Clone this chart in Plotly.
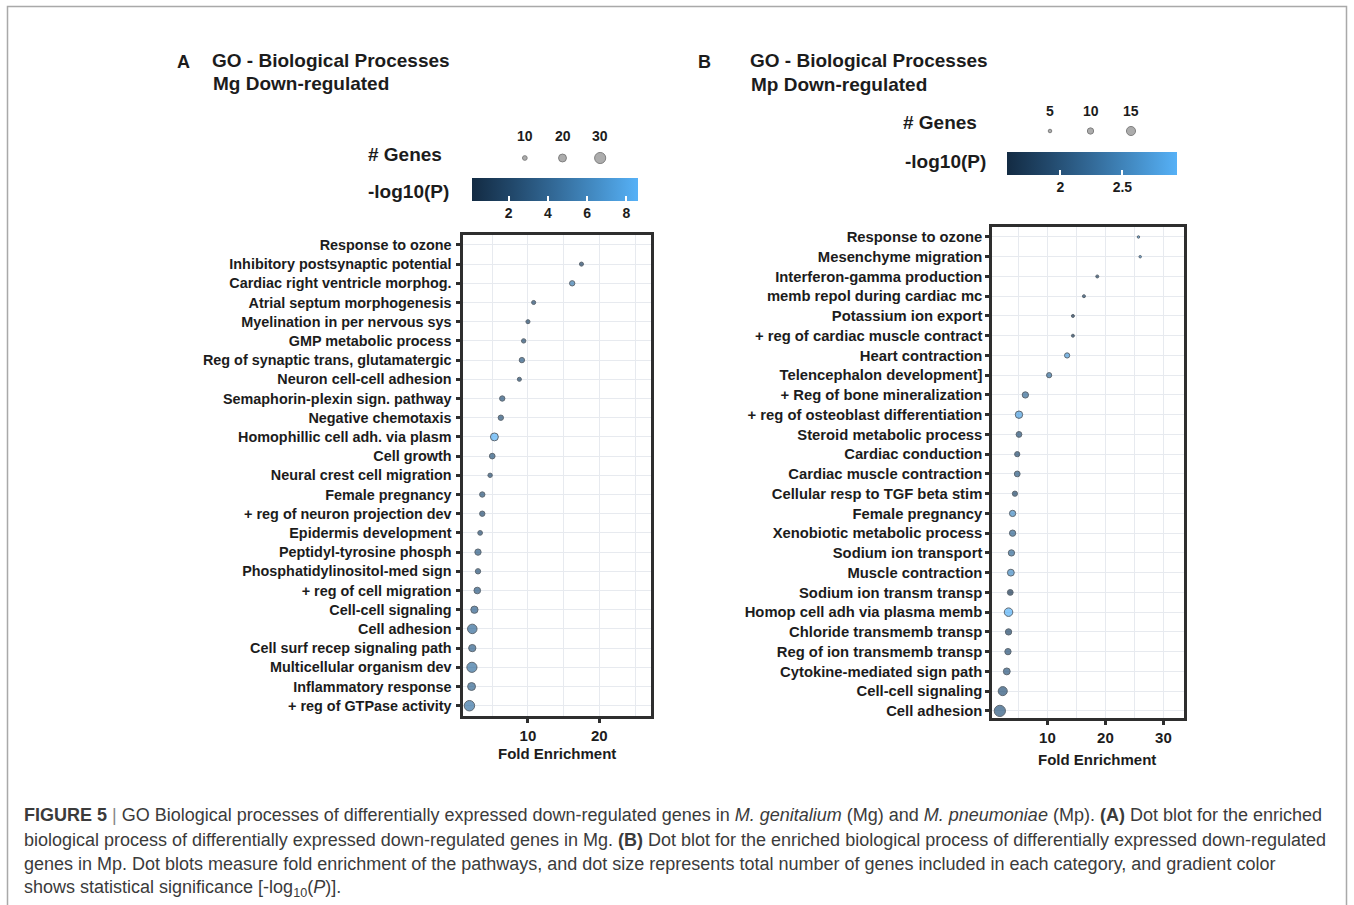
import numpy as np
import plotly.graph_objects as go

NA = float("nan")

# ---------------- data ----------------
A_terms = [
    "Response to ozone", "Inhibitory postsynaptic potential", "Cardiac right ventricle morphog.",
    "Atrial septum morphogenesis", "Myelination in per nervous sys", "GMP metabolic process",
    "Reg of synaptic trans, glutamatergic", "Neuron cell-cell adhesion", "Semaphorin-plexin sign. pathway",
    "Negative chemotaxis", "Homophillic cell adh. via plasm", "Cell growth", "Neural crest cell migration",
    "Female pregnancy", "+ reg of neuron projection dev", "Epidermis development",
    "Peptidyl-tyrosine phosph", "Phosphatidylinositol-med sign", "+ reg of cell migration",
    "Cell-cell signaling", "Cell adhesion", "Cell surf recep signaling path",
    "Multicellular organism dev", "Inflammatory response", "+ reg of GTPase activity",
]
A_fold = [NA, 17.5, 16.2, 10.8, 10.0, 9.4, 9.15, 8.8, 6.4, 6.2, 5.3, 5.0, 4.7,
          3.6, 3.6, 3.3, 3.0, 3.0, 2.9, 2.5, 2.2, 2.2, 2.15, 2.1, 1.8]
A_genes = [NA, 8, 12, 8, 8, 9, 12, 8, 12, 12, 20, 13, 9,
           12, 12, 10, 15, 12, 16, 18, 25, 18, 27, 20, 28]
A_logp = [NA, 2.0, 5.5, 2.6, 2.3, 2.5, 3.4, 2.1, 3.0, 2.9, 8.6, 3.2, 2.6,
          2.9, 2.7, 2.6, 3.4, 2.9, 3.3, 3.8, 4.4, 3.8, 4.8, 4.0, 4.9]

B_terms = [
    "Response to ozone", "Mesenchyme migration", "Interferon-gamma production",
    "memb repol during cardiac mc", "Potassium ion export", "+ reg of cardiac muscle contract",
    "Heart contraction", "Telencephalon development]", "+ Reg of bone mineralization",
    "+ reg of osteoblast differentiation", "Steroid metabolic process", "Cardiac conduction",
    "Cardiac muscle contraction", "Cellular resp to TGF beta stim", "Female pregnancy",
    "Xenobiotic metabolic process", "Sodium ion transport", "Muscle contraction",
    "Sodium ion transm transp", "Homop cell adh via plasma memb", "Chloride transmemb transp",
    "Reg of ion transmemb transp", "Cytokine-mediated sign path", "Cell-cell signaling", "Cell adhesion",
]
B_fold = [25.7, 26.0, 18.6, 16.3, 14.4, 14.4, 13.4, 10.3, 6.2, 5.1, 5.1, 4.8, 4.8,
          4.4, 4.0, 4.0, 3.8, 3.7, 3.6, 3.3, 3.3, 3.2, 3.0, 2.3, 1.8]
B_genes = [3, 3, 4, 4, 4, 4, 8, 8, 10, 12, 9, 8, 9,
           8, 10, 10, 10, 11, 9, 14, 10, 10, 11, 15, 19]
B_logp = [2.6, 2.6, 1.8, 1.9, 1.7, 1.75, 2.75, 2.3, 2.25, 2.8, 2.0, 1.95, 2.1,
          1.9, 2.6, 2.2, 2.25, 2.6, 1.7, 2.94, 1.9, 2.0, 2.05, 2.0, 2.05]

A_size_breaks = [10, 20, 30]
B_size_breaks = [5, 10, 15]
A_color_ticks = [2, 4, 6, 8]
B_color_ticks = [2, 2.5]

# ---------------- helpers ----------------
W, H = 1354, 905
FONT = "Liberation Sans, Arial, Helvetica, sans-serif"
INK = "#1c1c1c"

# dot diameter (px) = base + slope * genes, one scale per panel
A_SIZE = (1.5, 0.32)
B_SIZE = (0.8, 0.55)


def fx(px):
    return px / W


def fy(py):
    return 1 - py / H


def dot_size(genes, scale):
    base, slope = scale
    g = np.asarray(genes, dtype=float)
    return np.nan_to_num(base + slope * g, nan=0.0)


def keep(vals):
    # rows that carry a drawable value
    return [i for i, v in enumerate(vals) if not np.isnan(v)]


# default ggplot gradient, sampled in Lab space
GRAD = [[0.0, "#132B43"], [0.25, "#22496C"], [0.5, "#336A98"], [0.75, "#448DC6"], [1.0, "#56B1F7"]]

fig = go.Figure()

# ---- panel A dots ----
ia = keep(A_fold)
fig.add_trace(go.Scatter(
    x=[A_fold[i] for i in ia], y=[A_terms[i] for i in ia], mode="markers", xaxis="x", yaxis="y",
    marker=dict(size=dot_size([A_genes[i] for i in ia], A_SIZE), color=[A_logp[i] for i in ia],
                coloraxis="coloraxis", opacity=0.7, line=dict(color="#1d2b38", width=1)),
    showlegend=False, hoverinfo="x+y",
))
# ---- panel B dots ----
fig.add_trace(go.Scatter(
    x=B_fold, y=B_terms, mode="markers", xaxis="x2", yaxis="y2",
    marker=dict(size=dot_size(B_genes, B_SIZE), color=B_logp, coloraxis="coloraxis2",
                opacity=0.7, line=dict(color="#1d2b38", width=1)),
    showlegend=False, hoverinfo="x+y",
))
# ---- size keys ----
fig.add_trace(go.Scatter(
    x=list(range(len(A_size_breaks))), y=[0.5] * len(A_size_breaks), mode="markers",
    xaxis="x3", yaxis="y3",
    marker=dict(size=dot_size(A_size_breaks, A_SIZE), color="#8a8a8a",
                line=dict(color="#4a4a4a", width=1)),
    showlegend=False, hoverinfo="skip",
))
fig.add_trace(go.Scatter(
    x=list(range(len(B_size_breaks))), y=[0.5] * len(B_size_breaks), mode="markers",
    xaxis="x4", yaxis="y4",
    marker=dict(size=dot_size(B_size_breaks, B_SIZE), color="#8a8a8a",
                line=dict(color="#4a4a4a", width=1)),
    showlegend=False, hoverinfo="skip",
))

grid = "#e7eaef"
frame = "#2e2e2e"
xtick_font = dict(family=FONT, size=15, color=INK, weight="bold")


def xaxis_cfg(domain, rng, ticks, anchor):
    return dict(domain=domain, range=rng, tickvals=ticks, anchor=anchor,
                showgrid=True, gridcolor=grid, gridwidth=1,
                minor=dict(dtick=5, tick0=0, showgrid=True, gridcolor=grid, gridwidth=1),
                zeroline=False, showline=True, linecolor=frame, linewidth=3, mirror=True,
                ticks="outside", ticklen=4, tickwidth=3, tickcolor=frame, tickfont=xtick_font,
                fixedrange=True)


def yaxis_cfg(domain, rng, anchor, terms, fsize, standoff):
    return dict(domain=domain, range=rng, type="category", categoryorder="array", categoryarray=terms,
                tickvals=terms, anchor=anchor, showgrid=True, gridcolor=grid, gridwidth=1, zeroline=False,
                showline=True, linecolor=frame, linewidth=3, mirror=True,
                ticks="outside", ticklen=4, tickwidth=3, tickcolor=frame,
                tickfont=dict(family=FONT, size=fsize, color=INK, weight="bold"),
                ticklabelstandoff=standoff, fixedrange=True)


def colorbar_cfg(x0, y0, length, ticks):
    return dict(orientation="h", x=fx(x0), xanchor="left", y=fy(y0), yanchor="top",
                len=length, lenmode="pixels", thickness=23, thicknessmode="pixels",
                xpad=0, ypad=0, outlinewidth=0, ticks="inside", ticklen=5, tickwidth=1.5,
                tickcolor="white", tickvals=ticks, ticklabelposition="outside",
                tickfont=dict(family=FONT, size=14, color=INK, weight="bold"))


fig.update_layout(
    width=W, height=H, margin=dict(l=0, r=0, t=0, b=0),
    paper_bgcolor="white", plot_bgcolor="white",
    font=dict(family=FONT, color=INK),
    xaxis=xaxis_cfg([fx(462.5), fx(650.7)], [0.83, 27.2], [10, 20], "y"),
    yaxis=yaxis_cfg([fy(715.7), fy(235.3)], [24.52, -0.5], "x", A_terms, 14.4, 1),
    xaxis2=xaxis_cfg([fx(992.3), fx(1183.7)], [0.5, 33.5], [10, 20, 30], "y2"),
    yaxis2=yaxis_cfg([fy(718), fy(226.5)], [24.36, -0.53], "x2", B_terms, 14.8, 0),
    xaxis3=dict(domain=[fx(506), fx(619)], range=[-0.5, 2.5], visible=False, anchor="y3", fixedrange=True),
    yaxis3=dict(domain=[fy(168), fy(148)], range=[0, 1], visible=False, anchor="x3", fixedrange=True),
    xaxis4=dict(domain=[fx(1029.75), fx(1151.25)], range=[-0.5, 2.5], visible=False, anchor="y4", fixedrange=True),
    yaxis4=dict(domain=[fy(141), fy(121)], range=[0, 1], visible=False, anchor="x4", fixedrange=True),
    coloraxis=dict(colorscale=GRAD, cmin=0.14, cmax=8.59,
                   colorbar=colorbar_cfg(472, 178, 166, A_color_ticks)),
    coloraxis2=dict(colorscale=GRAD, cmin=1.57, cmax=2.94,
                    colorbar=colorbar_cfg(1007, 152.5, 170, B_color_ticks)),
)

ann = []


def text(x, y, s, size, bold=True, anchor="left", color=INK, xref="paper"):
    ann.append(dict(x=x if xref != "paper" else fx(x), y=fy(y), xref=xref, yref="paper", text=s,
                    showarrow=False, xanchor=anchor, yanchor="middle",
                    font=dict(family=FONT, size=size, color=color, weight="bold" if bold else "normal")))


# panel headers
text(175, 62, "A", 18)
text(210, 61, "GO - Biological Processes", 19)
text(211, 84, "Mg Down-regulated", 19)
text(696, 62, "B", 18)
text(748, 61, "GO - Biological Processes", 19)
text(749, 85, "Mp Down-regulated", 19)

# key titles
text(366, 154, "# Genes", 19)
text(366, 192, "-log10(P)", 19)
text(901, 123, "# Genes", 19)
text(903, 161, "-log10(P)", 19)

# size key labels
for i, v in enumerate(A_size_breaks):
    text(i, 136, str(v), 14, anchor="center", xref="x3")
for i, v in enumerate(B_size_breaks):
    text(i, 111, str(v), 14, anchor="center", xref="x4")

# axis titles
text(557, 753, "Fold Enrichment", 15, anchor="center")
text(1097, 759, "Fold Enrichment", 15, anchor="center")

# caption
CAP = "#3b3b3b"
cap_lines = [
    "<b>FIGURE 5</b> <span style='color:#888'>|</span> GO Biological processes of differentially expressed "
    "down-regulated genes in <i>M. genitalium</i> (Mg) and <i>M. pneumoniae</i> (Mp). <b>(A)</b> Dot blot for the enriched",
    "biological process of differentially expressed down-regulated genes in Mg. <b>(B)</b> Dot blot for the "
    "enriched biological process of differentially expressed down-regulated",
    "genes in Mp. Dot blots measure fold enrichment of the pathways, and dot size represents total number "
    "of genes included in each category, and gradient color",
    "shows statistical significance [-log<sub>10</sub>(<i>P</i>)].",
]
for i, line in enumerate(cap_lines):
    text(22, 815 + i * 24.5, line, 18, bold=False, color=CAP)

fig.update_layout(annotations=ann)

# outer figure frame
fig.add_shape(type="rect", xref="paper", yref="paper", x0=fx(7.5), x1=fx(1346.5), y0=-0.05, y1=fy(6.5),
              line=dict(color="#a9a9a9", width=1.5), fillcolor="rgba(0,0,0,0)", layer="below")

fig.write_html("out.html")
